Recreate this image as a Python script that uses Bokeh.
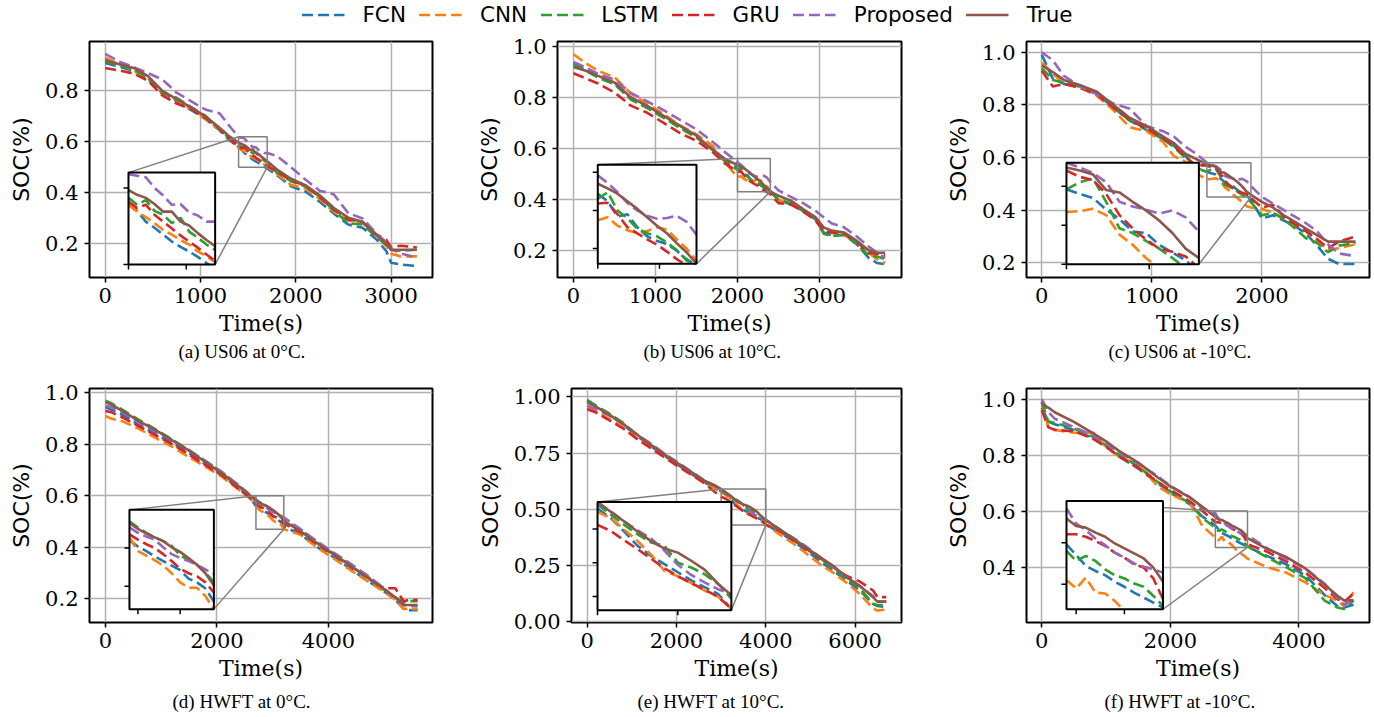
import numpy as np
from bokeh.plotting import figure
from bokeh.layouts import column, row
from bokeh.models import (Range1d, Title, Legend, LegendItem, FixedTicker,
                          PrintfTickFormatter)
from bokeh.embed import file_html
from bokeh.resources import INLINE

SERIES = ["FCN", "CNN", "LSTM", "GRU", "Proposed", "True"]

# ---------------- (a) US06 at 0°C ----------------
time_a = [0, 150, 300, 450, 600, 750, 900, 1050, 1200, 1300, 1400, 1430, 1460, 1490, 1520, 1550,
          1580, 1610, 1640, 1670, 1700, 1800, 1950, 2100, 2250, 2400, 2550, 2700, 2850, 2950, 3000, 3100, 3270]
fcn_a = [0.910, 0.895, 0.878, 0.845, 0.788, 0.760, 0.725, 0.690, 0.645, 0.608, 0.578, 0.570, 0.556, 0.548, 0.539, 0.530,
         0.523, 0.517, 0.510, 0.502, 0.495, 0.470, 0.425, 0.405, 0.365, 0.318, 0.275, 0.262, 0.215, 0.170, 0.125, 0.118, 0.112]
cnn_a = [0.930, 0.905, 0.880, 0.850, 0.790, 0.765, 0.730, 0.690, 0.648, 0.615, 0.578, 0.569, 0.562, 0.554, 0.545, 0.539,
         0.532, 0.526, 0.517, 0.511, 0.503, 0.475, 0.430, 0.418, 0.375, 0.325, 0.290, 0.282, 0.230, 0.190, 0.160, 0.150, 0.150]
lstm_a = [0.915, 0.900, 0.885, 0.852, 0.793, 0.773, 0.737, 0.703, 0.650, 0.615, 0.587, 0.578, 0.584, 0.570, 0.565, 0.554,
          0.561, 0.543, 0.535, 0.526, 0.519, 0.480, 0.445, 0.425, 0.385, 0.330, 0.280, 0.275, 0.225, 0.195, 0.175, 0.172, 0.176]
gru_a = [0.890, 0.880, 0.868, 0.840, 0.782, 0.750, 0.728, 0.695, 0.652, 0.612, 0.582, 0.574, 0.578, 0.565, 0.556, 0.547,
         0.538, 0.530, 0.522, 0.513, 0.505, 0.485, 0.448, 0.428, 0.383, 0.335, 0.295, 0.285, 0.235, 0.215, 0.185, 0.192, 0.185]
prop_a = [0.945, 0.915, 0.893, 0.870, 0.845, 0.793, 0.760, 0.727, 0.712, 0.664, 0.618, 0.616, 0.614, 0.600, 0.590, 0.578,
          0.579, 0.568, 0.564, 0.556, 0.556, 0.545, 0.500, 0.452, 0.408, 0.393, 0.320, 0.299, 0.238, 0.205, 0.178, 0.162, 0.145]
true_a = [0.920, 0.905, 0.890, 0.858, 0.800, 0.768, 0.735, 0.700, 0.655, 0.622, 0.597, 0.591, 0.587, 0.579, 0.569, 0.569,
          0.556, 0.551, 0.541, 0.532, 0.524, 0.492, 0.455, 0.430, 0.390, 0.340, 0.302, 0.286, 0.232, 0.200, 0.176, 0.176, 0.176]

# ---------------- (b) US06 at 10°C ----------------
time_b = [0, 150, 300, 500, 700, 900, 1100, 1300, 1500, 1700, 1850, 2000, 2040, 2080, 2120, 2160, 2200, 2240,
          2280, 2320, 2360, 2400, 2500, 2650, 2800, 2950, 3050, 3150, 3300, 3450, 3600, 3700, 3800]
fcn_b = [0.935, 0.910, 0.882, 0.855, 0.795, 0.760, 0.724, 0.684, 0.645, 0.598, 0.552, 0.522, 0.512, 0.492, 0.495, 0.478, 0.466, 0.460,
         0.456, 0.447, 0.436, 0.428, 0.398, 0.380, 0.355, 0.322, 0.270, 0.258, 0.260, 0.225, 0.170, 0.150, 0.145]
cnn_b = [0.970, 0.935, 0.905, 0.880, 0.815, 0.775, 0.735, 0.690, 0.655, 0.610, 0.545, 0.487, 0.491, 0.480, 0.474, 0.470, 0.473, 0.478,
         0.475, 0.462, 0.450, 0.434, 0.395, 0.383, 0.360, 0.325, 0.285, 0.268, 0.260, 0.235, 0.190, 0.165, 0.150]
lstm_b = [0.930, 0.905, 0.878, 0.852, 0.792, 0.758, 0.720, 0.680, 0.642, 0.595, 0.550, 0.515, 0.524, 0.500, 0.490, 0.476, 0.470, 0.466,
          0.458, 0.448, 0.434, 0.430, 0.400, 0.385, 0.355, 0.325, 0.265, 0.255, 0.262, 0.225, 0.180, 0.175, 0.165]
gru_b = [0.895, 0.875, 0.855, 0.820, 0.768, 0.740, 0.700, 0.660, 0.630, 0.585, 0.540, 0.509, 0.510, 0.495, 0.478, 0.470, 0.462, 0.455,
         0.446, 0.436, 0.428, 0.420, 0.385, 0.380, 0.352, 0.318, 0.275, 0.270, 0.265, 0.235, 0.190, 0.185, 0.180]
prop_b = [0.940, 0.918, 0.893, 0.870, 0.818, 0.785, 0.750, 0.712, 0.675, 0.625, 0.585, 0.546, 0.536, 0.524, 0.510, 0.500, 0.493, 0.489,
          0.490, 0.493, 0.485, 0.468, 0.435, 0.410, 0.385, 0.355, 0.330, 0.305, 0.290, 0.255, 0.215, 0.190, 0.170]
true_b = [0.920, 0.905, 0.885, 0.859, 0.800, 0.767, 0.728, 0.689, 0.650, 0.593, 0.558, 0.535, 0.529, 0.522, 0.512, 0.502, 0.491, 0.480,
          0.470, 0.457, 0.445, 0.430, 0.414, 0.395, 0.362, 0.330, 0.290, 0.277, 0.270, 0.238, 0.200, 0.190, 0.190]

# ---------------- (c) US06 at -10°C ----------------
time_c = [0, 100, 200, 350, 500, 650, 800, 950, 1100, 1200, 1300, 1400, 1500, 1540, 1580, 1620, 1660, 1700,
          1740, 1780, 1820, 1860, 1900, 2000, 2100, 2200, 2300, 2400, 2500, 2600, 2700, 2850]
fcn_c = [0.990, 0.900, 0.880, 0.870, 0.845, 0.790, 0.740, 0.705, 0.670, 0.645, 0.610, 0.560, 0.546, 0.540, 0.535, 0.520, 0.508, 0.492,
         0.490, 0.475, 0.465, 0.455, 0.440, 0.368, 0.380, 0.360, 0.340, 0.310, 0.265, 0.215, 0.195, 0.195]
cnn_c = [0.960, 0.920, 0.880, 0.865, 0.835, 0.780, 0.715, 0.700, 0.660, 0.605, 0.585, 0.540, 0.517, 0.518, 0.521, 0.513, 0.488, 0.475,
         0.458, 0.445, 0.430, 0.415, 0.410, 0.405, 0.390, 0.370, 0.345, 0.320, 0.280, 0.250, 0.255, 0.270]
lstm_c = [0.940, 0.895, 0.885, 0.870, 0.840, 0.790, 0.740, 0.710, 0.670, 0.640, 0.600, 0.560, 0.546, 0.555, 0.560, 0.530, 0.496, 0.490,
          0.480, 0.470, 0.458, 0.445, 0.430, 0.380, 0.390, 0.365, 0.330, 0.293, 0.275, 0.240, 0.265, 0.275]
gru_c = [0.930, 0.870, 0.880, 0.865, 0.840, 0.790, 0.745, 0.710, 0.675, 0.645, 0.605, 0.570, 0.570, 0.562, 0.558, 0.540, 0.513, 0.496,
         0.482, 0.470, 0.466, 0.460, 0.445, 0.410, 0.420, 0.375, 0.345, 0.320, 0.290, 0.255, 0.280, 0.300]
prop_c = [1.000, 0.970, 0.910, 0.870, 0.840, 0.805, 0.785, 0.720, 0.700, 0.680, 0.642, 0.615, 0.580, 0.574, 0.567, 0.555, 0.530, 0.524,
          0.520, 0.515, 0.519, 0.510, 0.492, 0.450, 0.425, 0.400, 0.375, 0.350, 0.320, 0.270, 0.235, 0.225]
true_c = [0.950, 0.925, 0.895, 0.875, 0.850, 0.800, 0.750, 0.720, 0.680, 0.655, 0.615, 0.595, 0.574, 0.570, 0.565, 0.545, 0.542, 0.530,
          0.519, 0.506, 0.490, 0.470, 0.458, 0.431, 0.410, 0.380, 0.355, 0.330, 0.305, 0.280, 0.280, 0.280]

# ---------------- (d) HWFT at 0°C ----------------
time_d = [0, 100, 300, 600, 900, 1200, 1500, 1800, 2100, 2400, 2600, 2700, 2750, 2800, 2850, 2900, 2950, 3000,
          3050, 3100, 3150, 3200, 3500, 3800, 4100, 4400, 4700, 5000, 5200, 5350, 5450, 5600]
fcn_d = [0.945, 0.935, 0.915, 0.875, 0.840, 0.805, 0.765, 0.722, 0.680, 0.628, 0.590, 0.560, 0.552, 0.546, 0.539, 0.533, 0.527, 0.521,
         0.510, 0.505, 0.497, 0.480, 0.450, 0.400, 0.360, 0.315, 0.270, 0.228, 0.195, 0.160, 0.155, 0.155]
cnn_d = [0.910, 0.900, 0.890, 0.860, 0.825, 0.790, 0.750, 0.712, 0.672, 0.622, 0.588, 0.564, 0.546, 0.540, 0.534, 0.527, 0.517, 0.505,
         0.498, 0.498, 0.487, 0.470, 0.448, 0.398, 0.355, 0.310, 0.268, 0.228, 0.195, 0.160, 0.160, 0.160]
lstm_d = [0.970, 0.960, 0.935, 0.895, 0.858, 0.818, 0.778, 0.733, 0.690, 0.637, 0.603, 0.585, 0.577, 0.570, 0.564, 0.559, 0.553, 0.540,
          0.535, 0.528, 0.518, 0.505, 0.468, 0.418, 0.373, 0.330, 0.280, 0.235, 0.205, 0.185, 0.190, 0.190]
gru_d = [0.930, 0.925, 0.905, 0.870, 0.835, 0.800, 0.760, 0.718, 0.678, 0.625, 0.590, 0.568, 0.561, 0.555, 0.550, 0.542, 0.533, 0.523,
         0.517, 0.513, 0.505, 0.492, 0.458, 0.410, 0.370, 0.325, 0.285, 0.240, 0.240, 0.190, 0.195, 0.195]
prop_d = [0.950, 0.945, 0.925, 0.885, 0.850, 0.815, 0.775, 0.735, 0.690, 0.640, 0.600, 0.577, 0.570, 0.565, 0.561, 0.551, 0.542, 0.537,
          0.533, 0.528, 0.522, 0.516, 0.470, 0.422, 0.378, 0.335, 0.290, 0.240, 0.200, 0.175, 0.172, 0.170]
true_d = [0.964, 0.955, 0.930, 0.890, 0.855, 0.815, 0.775, 0.730, 0.685, 0.635, 0.600, 0.583, 0.575, 0.569, 0.564, 0.559, 0.551, 0.545,
          0.537, 0.528, 0.517, 0.501, 0.462, 0.415, 0.372, 0.327, 0.282, 0.237, 0.205, 0.175, 0.175, 0.175]

# ---------------- (e) HWFT at 10°C ----------------
time_e = [0, 200, 500, 800, 1100, 1400, 1700, 2000, 2300, 2600, 2850, 3000, 3100, 3200, 3300, 3400, 3500, 3600,
          3700, 3800, 3900, 4000, 4300, 4600, 4900, 5200, 5500, 5800, 6100, 6400, 6500, 6700]
fcn_e = [0.985, 0.960, 0.920, 0.878, 0.828, 0.785, 0.742, 0.702, 0.662, 0.622, 0.598, 0.580, 0.566, 0.546, 0.525, 0.510, 0.498, 0.486,
         0.474, 0.464, 0.454, 0.432, 0.400, 0.360, 0.318, 0.272, 0.228, 0.185, 0.140, 0.080, 0.070, 0.065]
cnn_e = [0.950, 0.935, 0.900, 0.865, 0.818, 0.780, 0.738, 0.698, 0.660, 0.620, 0.595, 0.575, 0.566, 0.549, 0.532, 0.512, 0.488, 0.480,
         0.470, 0.459, 0.450, 0.432, 0.390, 0.350, 0.305, 0.258, 0.220, 0.175, 0.125, 0.060, 0.050, 0.055]
lstm_e = [0.985, 0.960, 0.925, 0.885, 0.832, 0.792, 0.748, 0.708, 0.668, 0.628, 0.605, 0.586, 0.571, 0.556, 0.542, 0.530, 0.525, 0.500,
          0.493, 0.483, 0.469, 0.447, 0.412, 0.372, 0.330, 0.282, 0.240, 0.192, 0.150, 0.080, 0.075, 0.075]
gru_e = [0.945, 0.930, 0.895, 0.860, 0.815, 0.775, 0.735, 0.695, 0.658, 0.620, 0.578, 0.556, 0.547, 0.533, 0.520, 0.506, 0.492, 0.480,
         0.470, 0.460, 0.450, 0.432, 0.405, 0.365, 0.325, 0.285, 0.245, 0.205, 0.180, 0.140, 0.110, 0.110]
prop_e = [0.960, 0.945, 0.915, 0.880, 0.835, 0.795, 0.752, 0.712, 0.672, 0.632, 0.605, 0.588, 0.576, 0.561, 0.548, 0.536, 0.518, 0.497,
          0.482, 0.471, 0.461, 0.454, 0.412, 0.375, 0.335, 0.290, 0.245, 0.200, 0.160, 0.115, 0.090, 0.090]
true_e = [0.975, 0.955, 0.920, 0.880, 0.835, 0.790, 0.748, 0.708, 0.670, 0.630, 0.607, 0.590, 0.575, 0.561, 0.546, 0.532, 0.521, 0.515,
          0.503, 0.490, 0.469, 0.452, 0.412, 0.372, 0.330, 0.290, 0.250, 0.200, 0.160, 0.110, 0.090, 0.090]

# ---------------- (f) HWFT at -10°C ----------------
time_f = [0, 100, 200, 500, 800, 1000, 1200, 1500, 1800, 2000, 2300, 2500, 2700, 2750, 2800, 2850, 2900, 2950,
          3000, 3050, 3100, 3150, 3200, 3500, 3800, 4100, 4400, 4600, 4700, 4850]
fcn_f = [0.970, 0.920, 0.910, 0.890, 0.860, 0.830, 0.795, 0.752, 0.700, 0.665, 0.625, 0.580, 0.548, 0.535, 0.522, 0.516, 0.511, 0.503,
         0.497, 0.490, 0.484, 0.478, 0.472, 0.440, 0.410, 0.370, 0.300, 0.260, 0.255, 0.265]
cnn_f = [0.990, 0.900, 0.890, 0.880, 0.880, 0.830, 0.795, 0.765, 0.690, 0.660, 0.630, 0.546, 0.505, 0.495, 0.508, 0.490, 0.489, 0.480,
         0.468, 0.455, 0.448, 0.440, 0.430, 0.400, 0.380, 0.345, 0.300, 0.280, 0.260, 0.310]
lstm_f = [0.990, 0.920, 0.915, 0.895, 0.865, 0.835, 0.800, 0.760, 0.705, 0.670, 0.628, 0.575, 0.540, 0.528, 0.534, 0.528, 0.518, 0.511,
          0.507, 0.501, 0.497, 0.486, 0.474, 0.435, 0.400, 0.360, 0.280, 0.255, 0.250, 0.280]
gru_f = [0.960, 0.900, 0.890, 0.885, 0.858, 0.830, 0.795, 0.755, 0.705, 0.675, 0.635, 0.600, 0.560, 0.560, 0.557, 0.552, 0.546, 0.538,
         0.532, 0.524, 0.520, 0.507, 0.482, 0.455, 0.420, 0.380, 0.325, 0.285, 0.275, 0.305]
prop_f = [1.000, 0.955, 0.930, 0.900, 0.870, 0.840, 0.810, 0.770, 0.725, 0.690, 0.650, 0.610, 0.591, 0.573, 0.565, 0.555, 0.547, 0.538,
          0.532, 0.525, 0.521, 0.518, 0.514, 0.468, 0.430, 0.395, 0.340, 0.290, 0.265, 0.280]
true_f = [0.983, 0.970, 0.953, 0.919, 0.878, 0.849, 0.815, 0.773, 0.721, 0.688, 0.649, 0.615, 0.579, 0.570, 0.568, 0.562, 0.557, 0.549,
          0.543, 0.537, 0.531, 0.520, 0.503, 0.465, 0.436, 0.395, 0.337, 0.297, 0.281, 0.281]

captions = {
    "a": "(a) US06 at 0°C.", "b": "(b) US06 at 10°C.", "c": "(c) US06 at -10°C.",
    "d": "(d) HWFT at 0°C.", "e": "(e) HWFT at 10°C.", "f": "(f) HWFT at -10°C.",
}
xticks = {"a": [0, 1000, 2000, 3000], "b": [0, 1000, 2000, 3000], "c": [0, 1000, 2000],
          "d": [0, 2000, 4000], "e": [0, 2000, 4000, 6000], "f": [0, 2000, 4000]}
yticks = {"a": [0.2, 0.4, 0.6, 0.8], "b": [0.2, 0.4, 0.6, 0.8, 1.0], "c": [0.2, 0.4, 0.6, 0.8, 1.0],
          "d": [0.2, 0.4, 0.6, 0.8, 1.0], "e": [0.0, 0.25, 0.5, 0.75, 1.0], "f": [0.4, 0.6, 0.8, 1.0]}

DATA = {
    "a": (time_a, [fcn_a, cnn_a, lstm_a, gru_a, prop_a, true_a]),
    "b": (time_b, [fcn_b, cnn_b, lstm_b, gru_b, prop_b, true_b]),
    "c": (time_c, [fcn_c, cnn_c, lstm_c, gru_c, prop_c, true_c]),
    "d": (time_d, [fcn_d, cnn_d, lstm_d, gru_d, prop_d, true_d]),
    "e": (time_e, [fcn_e, cnn_e, lstm_e, gru_e, prop_e, true_e]),
    "f": (time_f, [fcn_f, cnn_f, lstm_f, gru_f, prop_f, true_f]),
}

# ---------------- styles / layout ----------------
COLORS = ["#1f77b4", "#ff7f0e", "#2ca02c", "#d62728", "#9467bd", "#8c564b"]
DASHES = ["11 5", "11 5", "11 5", "11 5", "11 5", "solid"]
LW = 2.6

# w,h: figure size; l,r,t,b: borders; xr,yr: ranges; zoom: window; box: inset box (main coords)
# co: caption left offset from frame; cs: caption standoff
LAYOUT = {
    "a": dict(w=470, h=340, l=89, r=38, t=10, b=91, xr=(-164, 3434), yr=(0.067, 0.994),
              zoom=(1400, 1700, 0.5, 0.62), box=(245, 1154, 0.118, 0.479),
              ixt=[1400, 1600], iyt=[0.5, 0.6], yfmt="%.1f", co=89, cs=0),
    "b": dict(w=468, h=340, l=87, r=37, t=13, b=91, xr=(-195, 4000), yr=(0.093, 1.02),
              zoom=(2000, 2400, 0.43, 0.56), box=(296, 1500, 0.147, 0.536),
              ixt=[2000, 2250], iyt=[0.45, 0.5, 0.55], yfmt="%.1f", co=86, cs=0),
    "c": dict(w=435, h=340, l=88, r=4, t=10, b=91, xr=(-139, 2977), yr=(0.1437, 1.041),
              zoom=(1500, 1900, 0.45, 0.58), box=(224, 1427, 0.194, 0.58),
              ixt=[1500, 1750], iyt=[0.45, 0.5, 0.55], yfmt="%.1f", co=82, cs=0),
    "d": dict(w=470, h=349, l=89, r=38, t=20, b=95, xr=(-287, 5868), yr=(0.107, 1.017),
              zoom=(2700, 3200, 0.47, 0.6), box=(430, 1945, 0.159, 0.545),
              ixt=[2750, 3000], iyt=[0.5, 0.55], yfmt="%.1f", co=83, cs=10),
    "e": dict(w=468, h=349, l=101, r=37, t=17, b=95, xr=(-352, 7040), yr=(-0.003, 1.037),
              zoom=(3000, 4000, 0.43, 0.59), box=(231, 3229, 0.052, 0.533),
              ixt=[3000, 3600], iyt=[0.45, 0.5, 0.55], yfmt="%.2f", co=66, cs=10),
    "f": dict(w=435, h=349, l=88, r=4, t=17, b=95, xr=(-238, 5098), yr=(0.2017, 1.038),
              zoom=(2700, 3200, 0.47, 0.6), box=(384, 1886, 0.249, 0.636),
              ixt=[2750, 3000], iyt=[0.5, 0.55], yfmt="%.1f", co=78, cs=10),
}


def clip_line(xs, ys, x0, x1, y0, y1):
    """Clip a polyline to a rectangle, returning the visible pieces."""
    segs = []
    cx, cy = [], []
    for i in range(len(xs) - 1):
        ax, ay, bx, by = xs[i], ys[i], xs[i + 1], ys[i + 1]
        dx, dy = bx - ax, by - ay
        t0, t1, ok = 0.0, 1.0, True
        for pp, qq in ((-dx, ax - x0), (dx, x1 - ax), (-dy, ay - y0), (dy, y1 - ay)):
            if pp == 0:
                if qq < 0:
                    ok = False
                    break
            else:
                r = qq / pp
                if pp < 0:
                    if r > t1:
                        ok = False
                        break
                    t0 = max(t0, r)
                else:
                    if r < t0:
                        ok = False
                        break
                    t1 = min(t1, r)
        if not ok:
            if len(cx) > 1:
                segs.append((cx, cy))
            cx, cy = [], []
            continue
        if not cx or t0 > 0:
            if len(cx) > 1:
                segs.append((cx, cy))
            cx, cy = [ax + t0 * dx], [ay + t0 * dy]
        cx.append(ax + t1 * dx)
        cy.append(ay + t1 * dy)
        if t1 < 1:
            segs.append((cx, cy))
            cx, cy = [], []
    if len(cx) > 1:
        segs.append((cx, cy))
    return segs


def inset_range(main, box, win):
    f0 = (box[0] - main[0]) / (main[1] - main[0])
    f1 = (box[1] - main[0]) / (main[1] - main[0])
    span = (win[1] - win[0]) / (f1 - f0)
    start = win[0] - f0 * span
    return Range1d(start, start + span)


def make_panel(key):
    c = LAYOUT[key]
    t, ys = DATA[key]
    p = figure(width=c["w"], height=c["h"], x_range=Range1d(*c["xr"]), y_range=Range1d(*c["yr"]),
               toolbar_location=None, output_backend="svg",
               min_border_left=c["l"], min_border_right=c["r"],
               min_border_top=c["t"], min_border_bottom=c["b"])
    p.outline_line_color = "black"
    p.outline_line_width = 2
    p.background_fill_color = "white"
    p.border_fill_color = "white"

    p.xaxis.ticker = FixedTicker(ticks=xticks[key])
    p.yaxis.ticker = FixedTicker(ticks=yticks[key])
    p.xaxis.formatter = PrintfTickFormatter(format="%d")
    p.yaxis.formatter = PrintfTickFormatter(format=c["yfmt"])
    for ax in (p.xaxis[0], p.yaxis[0]):
        ax.axis_line_color = None
        ax.major_tick_line_color = "black"
        ax.major_tick_line_width = 1.5
        ax.major_tick_out = 5
        ax.major_tick_in = 0
        ax.minor_tick_line_color = None
        ax.major_label_text_font = "DejaVu Serif"
        ax.major_label_text_font_size = "21px"
        ax.major_label_text_color = "black"
        ax.axis_label_text_font_size = "22px"
        ax.axis_label_text_font_style = "normal"
        ax.axis_label_text_color = "black"
    p.xaxis.axis_label = "Time(s)"
    p.xaxis.axis_label_text_font = "DejaVu Serif"
    p.xaxis.major_label_standoff = 5
    p.xaxis.axis_label_standoff = 5
    p.yaxis.axis_label = "SOC(%)"
    p.yaxis.axis_label_text_font = "DejaVu Sans"
    p.yaxis.major_label_standoff = 6
    p.yaxis.axis_label_standoff = 8
    p.grid.grid_line_color = "#b0b0b0"
    p.grid.grid_line_width = 1.5

    # main curves
    for vals, col, dash in zip(ys, COLORS, DASHES):
        p.line(t, vals, line_color=col, line_width=LW, line_dash=dash)

    zx0, zx1, zy0, zy1 = c["zoom"]
    bx0, bx1, by0, by1 = c["box"]
    gray = "#808080"
    # zoom window + connectors
    p.quad(left=[zx0], right=[zx1], bottom=[zy0], top=[zy1], fill_alpha=0,
           line_color=gray, line_width=1.5)
    p.segment(x0=[zx0, zx1], y0=[zy1, zy0], x1=[bx0, bx1], y1=[by1, by0],
              line_color=gray, line_width=1.5)
    # inset background
    p.quad(left=[bx0], right=[bx1], bottom=[by0], top=[by1], fill_color="white",
           line_color=None)
    # inset ranges
    p.extra_x_ranges = {"ix": inset_range(c["xr"], (bx0, bx1), (zx0, zx1))}
    p.extra_y_ranges = {"iy": inset_range(c["yr"], (by0, by1), (zy0, zy1))}
    for vals, col, dash in zip(ys, COLORS, DASHES):
        segs = clip_line(t, vals, zx0, zx1, zy0, zy1)
        if segs:
            p.multi_line(xs=[s[0] for s in segs], ys=[s[1] for s in segs],
                         x_range_name="ix", y_range_name="iy",
                         line_color=col, line_width=LW, line_dash=dash)
    # inset ticks
    p.ray(x=c["ixt"], y=[zy0] * len(c["ixt"]), length=5, angle=-np.pi / 2,
          length_units="screen", x_range_name="ix", y_range_name="iy",
          line_color="black", line_width=1.5)
    p.ray(x=[zx0] * len(c["iyt"]), y=c["iyt"], length=5, angle=np.pi,
          length_units="screen", x_range_name="ix", y_range_name="iy",
          line_color="black", line_width=1.5)
    # inset frame
    p.quad(left=[bx0], right=[bx1], bottom=[by0], top=[by1], fill_alpha=0,
           line_color="black", line_width=2)

    cap = Title(text=captions[key], align="left", offset=c["co"], standoff=c["cs"],
                text_font="Liberation Serif", text_font_size="19px",
                text_font_style="normal", text_color="black")
    p.add_layout(cap, "below")
    return p


# legend strip
lg = figure(width=1374, height=28, x_range=Range1d(0, 1), y_range=Range1d(0, 1),
            toolbar_location=None, output_backend="svg", min_border=0,
            x_axis_location=None, y_axis_location=None)
lg.grid.visible = False
lg.outline_line_color = None
items = []
for name, col, dash in zip(SERIES, COLORS, DASHES):
    r = lg.line(x=[np.nan], y=[np.nan], line_color=col, line_width=LW, line_dash=dash)
    items.append(LegendItem(label=name, renderers=[r]))
leg = Legend(items=items, orientation="horizontal", location="center",
             glyph_width=43, glyph_height=20, label_standoff=18, spacing=13,
             padding=0, margin=0, border_line_alpha=0, background_fill_alpha=0,
             label_text_font="DejaVu Sans", label_text_font_size="21.5px",
             label_text_color="black")
lg.add_layout(leg, "center")

row1 = row([make_panel(k) for k in "abc"], spacing=0)
row2 = row([make_panel(k) for k in "def"], spacing=0)
layout = column([lg, row1, row2], spacing=0)

open("out.html", "w").write(file_html(layout, INLINE))
